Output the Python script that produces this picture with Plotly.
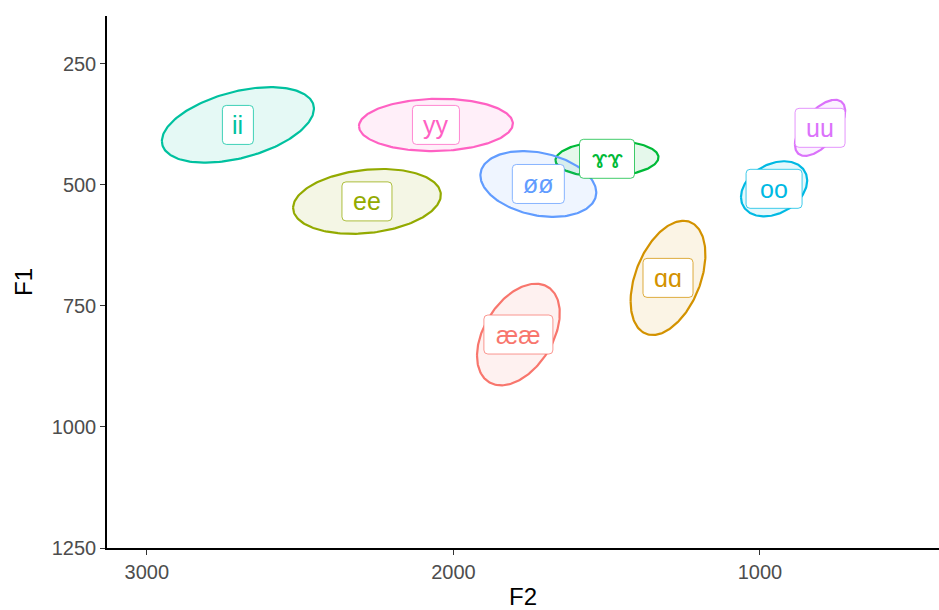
import numpy as np
import plotly.graph_objects as go

# Vowel categories and their formant summaries (Hz)
vowels = ["ææ", "ɑɑ", "ee", "ɤɤ", "ii", "oo", "øø", "uu", "yy"]
f2_mean = [1788, 1300, 2282, 1499, 2703, 954, 1723, 804, 2057]
f1_mean = [809, 692, 534, 446, 376, 508, 498, 382, 376]
f2_spread = [135, 122, 241, 168, 248, 108, 189, 82, 251]
f1_spread = [105, 118, 67, 37, 78, 57, 68, 58, 54]
f1_f2_corr = [0.42, 0.41, 0.2, 0.08, 0.43, 0.3, -0.26, 0.6, 0.05]

colors = ["#F8766D", "#D39200", "#93AA00", "#00BA38", "#00C19F",
          "#00B9E3", "#619CFF", "#DB72FB", "#FF61C3"]

x_ticks = [3000, 2000, 1000]
y_ticks = [250, 500, 750, 1000, 1250]

# label box widths in pixels (style)
label_box_w = {"ææ": 69, "ɑɑ": 50, "ee": 50, "ɤɤ": 55, "ii": 31,
               "oo": 56, "øø": 52, "uu": 50, "yy": 47}
LABEL_BOX_H = 39
CORNER = 4
FONT = "Liberation Sans, Arial, DejaVu Sans"


def rgba(hex_color, alpha):
    h = hex_color.lstrip("#")
    r, g, b = int(h[0:2], 16), int(h[2:4], 16), int(h[4:6], 16)
    return f"rgba({r},{g},{b},{alpha})"


def rounded_box(w, h, r):
    """SVG path (pixel offsets around an anchor) for a rounded rectangle."""
    x0, x1, y0, y1 = -w / 2, w / 2, -h / 2, h / 2
    return (f"M {x0 + r},{y0} L {x1 - r},{y0} Q {x1},{y0} {x1},{y0 + r} "
            f"L {x1},{y1 - r} Q {x1},{y1} {x1 - r},{y1} "
            f"L {x0 + r},{y1} Q {x0},{y1} {x0},{y1 - r} "
            f"L {x0},{y0 + r} Q {x0},{y0} {x0 + r},{y0} Z")


fig = go.Figure()
t = np.linspace(0, 2 * np.pi, 200)

for v, cx, cy, sx, sy, rho, col in zip(vowels, f2_mean, f1_mean, f2_spread,
                                       f1_spread, f1_f2_corr, colors):
    ex = cx + sx * np.cos(t)
    ey = cy + sy * (rho * np.cos(t) + np.sqrt(1 - rho ** 2) * np.sin(t))
    fig.add_trace(go.Scatter(
        x=ex, y=ey, mode="lines", fill="toself",
        fillcolor=rgba(col, 0.1), line=dict(color=col, width=2.2),
        hoverinfo="skip", showlegend=False, name=v))

for v, cx, cy, col in zip(vowels, f2_mean, f1_mean, colors):
    fig.add_shape(
        type="path", xref="x", yref="y", xsizemode="pixel", ysizemode="pixel",
        xanchor=cx, yanchor=cy, path=rounded_box(label_box_w[v], LABEL_BOX_H, CORNER),
        fillcolor="white", line=dict(color=rgba(col, 0.75), width=1), layer="above")
    fig.add_annotation(
        x=cx, y=cy, text=v, showarrow=False,
        font=dict(family=FONT, size=25, color=col))

axis_common = dict(
    showgrid=False, zeroline=False, showline=True, linecolor="black", linewidth=1.5,
    ticks="outside", ticklen=5, tickwidth=1, tickcolor="#333333",
    tickfont=dict(family=FONT, size=20, color="#4D4D4D"),
)

fig.update_xaxes(
    range=[3130, 416], tickvals=x_ticks, ticktext=[str(v) for v in x_ticks],
    title=dict(text="F2", font=dict(family=FONT, size=24, color="black"), standoff=8),
    **axis_common)
fig.update_yaxes(
    range=[1250, 151], tickvals=y_ticks, ticktext=[str(v) for v in y_ticks],
    title=dict(text="F1", font=dict(family=FONT, size=24, color="black"), standoff=12),
    **axis_common)

fig.update_layout(
    width=939, height=610,
    margin=dict(l=107, r=0, t=16, b=62, autoexpand=False),
    plot_bgcolor="white", paper_bgcolor="white",
)

fig.write_html("out.html")
